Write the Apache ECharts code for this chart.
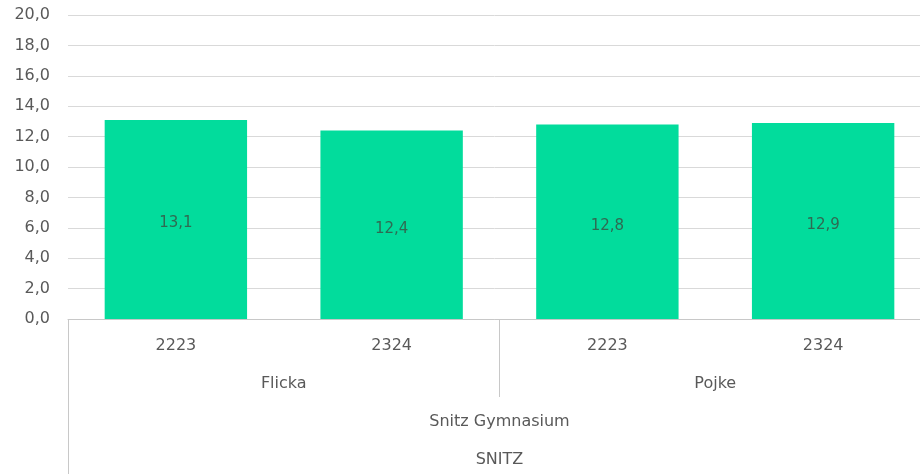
<!DOCTYPE html>
<html>
<head>
<meta charset="utf-8">
<script src="https://cdn.jsdelivr.net/npm/echarts@6/dist/echarts.min.js"></script>
<style>html,body{margin:0;padding:0;background:#fff;}#c{width:920px;height:474px;}</style>
</head>
<body>
<div id="c"></div>
<script>
const years = ['2223', '2324', '2223', '2324'];
const genders = ['Flicka', 'Pojke'];
const schools = ['Snitz Gymnasium'];
const groups = ['SNITZ'];
const values = [13.1, 12.4, 12.8, 12.9];
const yTicks = { min: 0, max: 20, interval: 2 };

const FONT = '"DejaVu Sans", sans-serif';
const TXT = '#595959';
const LINE = '#c8c8c8';

const chart = echarts.init(document.getElementById('c'));
chart.setOption({
  animation: false,
  textStyle: { fontFamily: FONT },
  grid: { left: 68, top: 15, bottom: 155, width: 863, outerBoundsMode: 'none', containLabel: false },
  yAxis: {
    type: 'value', min: yTicks.min, max: yTicks.max, interval: yTicks.interval,
    axisLine: { show: false }, axisTick: { show: false },
    splitLine: { lineStyle: { color: '#d9d9d9', width: 1 } },
    axisLabel: { color: TXT, fontSize: 16, fontFamily: FONT, margin: 18,
      formatter: v => v.toFixed(1).replace('.', ',') }
  },
  xAxis: [
    { type: 'category', data: years, position: 'bottom',
      axisLine: { show: true, lineStyle: { color: LINE } }, axisTick: { show: false },
      axisLabel: { color: TXT, fontSize: 16, fontFamily: FONT, margin: 19 } },
    { type: 'category', data: genders, position: 'bottom',
      axisLine: { show: false },
      axisTick: { show: true, length: 78, lineStyle: { color: LINE } },
      axisLabel: { color: TXT, fontSize: 16, fontFamily: FONT, margin: 57 } },
    { type: 'category', data: schools, position: 'bottom',
      axisLine: { show: false },
      axisTick: { show: true, length: 155, lineStyle: { color: LINE } },
      axisLabel: { color: TXT, fontSize: 16, fontFamily: FONT, margin: 95 } },
    { type: 'category', data: groups, position: 'bottom',
      axisLine: { show: false }, axisTick: { show: false },
      axisLabel: { color: TXT, fontSize: 16, fontFamily: FONT, margin: 133 } }
  ],
  series: [{
    type: 'bar', xAxisIndex: 0, data: values, barWidth: '66%',
    itemStyle: { color: '#02DC9C' },
    label: { show: true, position: 'inside', offset: [0, 4], color: '#2f6a52', fontSize: 15, fontFamily: FONT,
      formatter: p => p.value.toFixed(1).replace('.', ',') }
  }]
});
</script>
</body>
</html>
